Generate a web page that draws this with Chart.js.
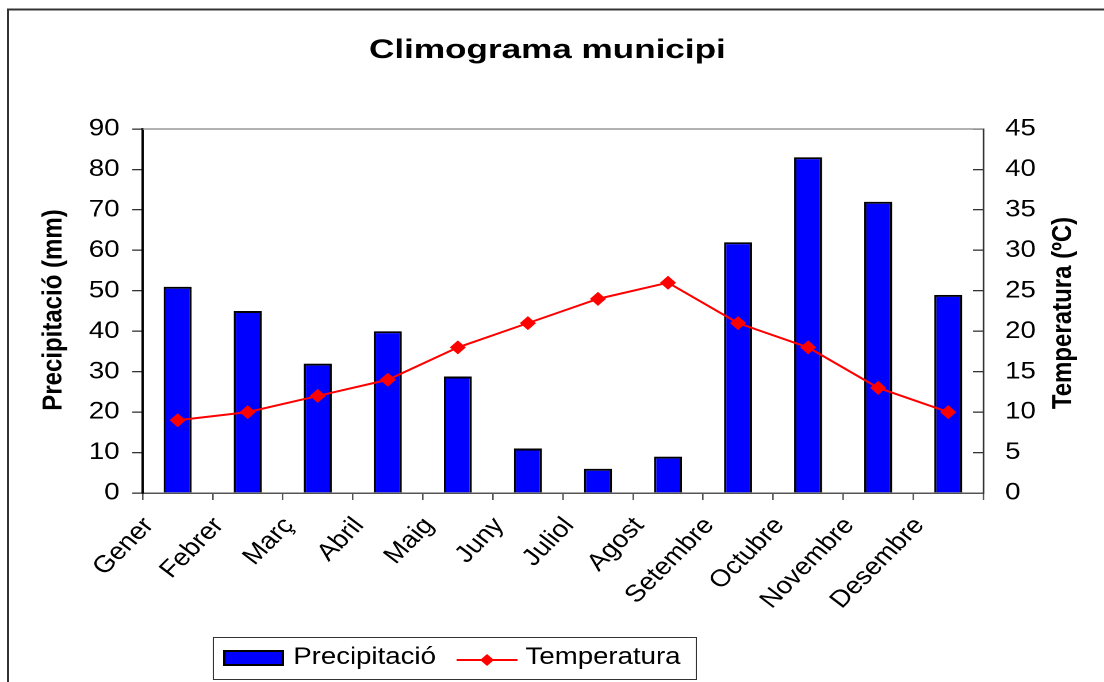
<!DOCTYPE html>
<html>
<head>
<meta charset="utf-8">
<script src="https://cdn.jsdelivr.net/npm/chart.js@4.4.1/dist/chart.umd.min.js"></script>
<style>
  html, body { margin: 0; padding: 0; background: #fff; overflow: hidden; }
  #chart { display: block; }
</style>
</head>
<body>
<!-- the reference is a bit stretched sideways, so draw at 960 wide and show it at 1104 -->
<canvas id="chart" width="960" height="682" style="width:1104px;height:682px"></canvas>
<script>
const months = ["Gener", "Febrer", "Març", "Abril", "Maig", "Juny", "Juliol", "Agost", "Setembre", "Octubre", "Novembre", "Desembre"];
const precipitation = [51, 45, 32, 40, 28.8, 11, 6, 9, 62, 83, 72, 49];
const temperature = [9, 10, 12, 14, 18, 21, 24, 26, 21, 18, 13, 10];

const precipRange = [0, 90, 10]; // min, max, step
const tempRange = [0, 45, 5];

const TITLE = "Climograma municipi";
const Y_LEFT_TITLE = "Precipitació (mm)";
const Y_RIGHT_TITLE = "Temperatura (ºC)";

const FONT = "'Liberation Sans', Arial, sans-serif";

// title, axis titles, legend and outer frame
const decorations = {
  id: "decorations",
  beforeDraw(chart) {
    const ctx = chart.ctx;
    ctx.save();
    ctx.fillStyle = "#fff";
    ctx.fillRect(0, 0, chart.width, chart.height);
    ctx.restore();
  },
  beforeDatasetsDraw(chart) {
    const { ctx, chartArea } = chart;
    ctx.save();
    ctx.strokeStyle = "#999";
    ctx.lineWidth = 1.5;
    ctx.beginPath();
    ctx.moveTo(chartArea.left, chartArea.top);
    ctx.lineTo(chartArea.right, chartArea.top);
    ctx.stroke();
    ctx.restore();
  },
  afterDraw(chart) {
    const ctx = chart.ctx;
    const bars = chart.data.datasets[1];
    const line = chart.data.datasets[0];
    ctx.save();

    // outer frame
    ctx.strokeStyle = "#333";
    ctx.lineWidth = 2;
    ctx.strokeRect(7, 9.5, 970, 700);

    // title (a bit wider than the plain font)
    ctx.fillStyle = "#000";
    ctx.textAlign = "center";
    ctx.textBaseline = "alphabetic";
    ctx.font = "bold 27px " + FONT;
    ctx.save();
    ctx.translate(476, 58);
    ctx.scale(1.13, 1);
    ctx.fillText(TITLE, 0, 0);
    ctx.restore();

    // axis titles, both read bottom to top
    ctx.font = "bold 24px " + FONT;
    ctx.textBaseline = "middle";
    ctx.save();
    ctx.translate(47, 310);
    ctx.rotate(-Math.PI / 2);
    ctx.fillText(Y_LEFT_TITLE, 0, 0);
    ctx.restore();
    ctx.save();
    ctx.translate(925, 313);
    ctx.rotate(-Math.PI / 2);
    ctx.fillText(Y_RIGHT_TITLE, 0, 0);
    ctx.restore();

    // legend
    ctx.strokeStyle = "#333";
    ctx.lineWidth = 1;
    ctx.strokeRect(185.5, 637.5, 420, 42);

    ctx.fillStyle = bars.backgroundColor;
    ctx.fillRect(195, 651, 51, 14);
    ctx.strokeStyle = "#000";
    ctx.lineWidth = 2;
    ctx.strokeRect(195, 651, 51, 14);

    ctx.strokeStyle = line.borderColor;
    ctx.lineWidth = 2;
    ctx.beginPath();
    ctx.moveTo(397, 660);
    ctx.lineTo(450, 660);
    ctx.stroke();
    ctx.fillStyle = line.backgroundColor;
    ctx.beginPath();
    ctx.moveTo(423.5, 654);
    ctx.lineTo(429.5, 660);
    ctx.lineTo(423.5, 666);
    ctx.lineTo(417.5, 660);
    ctx.closePath();
    ctx.fill();

    ctx.fillStyle = "#000";
    ctx.textAlign = "left";
    ctx.textBaseline = "alphabetic";
    ctx.font = "24px " + FONT;
    ctx.fillText(bars.label, 255, 664);
    ctx.fillText(line.label, 457, 664);

    ctx.restore();
  }
};

const chart = new Chart(document.getElementById("chart"), {
  data: {
    labels: months,
    datasets: [
      {
        type: "line",
        label: "Temperatura",
        data: temperature,
        yAxisID: "yT",
        borderColor: "#ff0000",
        backgroundColor: "#ff0000",
        borderWidth: 2,
        pointStyle: "rectRot",
        pointRadius: 7,
        pointBorderWidth: 0,
        tension: 0,
        order: 0
      },
      {
        type: "bar",
        label: "Precipitació",
        data: precipitation,
        yAxisID: "yP",
        backgroundColor: "#0000ff",
        borderColor: "#000",
        borderWidth: 2,
        barPercentage: 0.4,
        categoryPercentage: 1,
        order: 1
      }
    ]
  },
  options: {
    responsive: false,
    animation: false,
    devicePixelRatio: 2,
    layout: { padding: { top: 129, left: 0, right: 0, bottom: 0 } },
    plugins: {
      legend: { display: false },
      title: { display: false },
      tooltip: { enabled: false }
    },
    scales: {
      x: {
        offset: true,
        grid: { drawOnChartArea: false, offset: true, tickLength: 7, color: "#555", lineWidth: 1.3 },
        border: { color: "#555", width: 1.5 },
        ticks: {
          color: "#000",
          font: { family: FONT, size: 24 },
          minRotation: 49,
          maxRotation: 49,
          autoSkip: false,
          padding: 12,
          labelOffset: -25
        },
        afterFit(scale) { scale.height = 189; }
      },
      yP: {
        position: "left",
        min: precipRange[0],
        max: precipRange[1],
        grid: { drawOnChartArea: false, tickLength: 9, color: "#333", lineWidth: 1.3 },
        border: { color: "#000", width: 2 },
        ticks: {
          stepSize: precipRange[2],
          padding: 11,
          color: "#000",
          font: { family: FONT, size: 24 }
        },
        afterFit(scale) { scale.width = 124; }
      },
      yT: {
        position: "right",
        min: tempRange[0],
        max: tempRange[1],
        grid: { drawOnChartArea: false, tickLength: -9, color: "#333", lineWidth: 1.3 },
        border: { color: "#333", width: 1.5 },
        ticks: {
          stepSize: tempRange[2],
          padding: 28,
          color: "#000",
          font: { family: FONT, size: 24 }
        },
        afterFit(scale) { scale.width = 105; }
      }
    }
  },
  plugins: [decorations]
});
</script>
</body>
</html>
